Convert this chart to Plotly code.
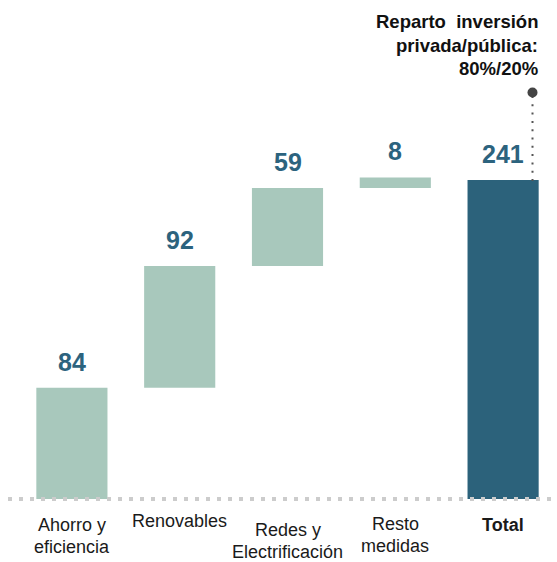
import plotly.graph_objects as go

# ---- data ----
categories = ["Ahorro y eficiencia", "Renovables", "Redes y Electrificación", "Resto medidas", "Total"]
label_lines = [["Ahorro y", "eficiencia"], ["Renovables"], ["Redes y", "Electrificación"], ["Resto", "medidas"], ["Total"]]
values = [84, 92, 59, 8, 241]
measures = ["relative", "relative", "relative", "relative", "absolute"]
note_lines = ["Reparto\u00a0 inversión", "privada/pública:", "80%/20%"]

FONT = "Liberation Sans, Arial, Helvetica, sans-serif"
LIGHT = "#a8c8bc"
DARK = "#2c627b"
TEXTC = "#2c637e"

W, H = 557, 562
ML, MR, MT, MB = 18, 0, 20, 63
plot_h = H - MT - MB
YMAX = 362

fig = go.Figure()
fig.add_trace(go.Waterfall(
    x=categories, y=values, measure=measures,
    increasing=dict(marker=dict(color=LIGHT)),
    decreasing=dict(marker=dict(color=LIGHT)),
    totals=dict(marker=dict(color=DARK)),
    connector=dict(visible=False),
    width=0.66, hoverinfo="skip", textinfo="none",
))

annotations = []
# value labels at bar tops
cum = 0
for cat, v, m in zip(categories, values, measures):
    top = cum + v if m == "relative" else v
    if m == "relative":
        cum += v
    annotations.append(dict(x=cat, y=top, xref="x", yref="y", text=str(v),
                            showarrow=False, yanchor="middle", yshift=26,
                            font=dict(family=FONT, size=25, color=TEXTC, weight="bold")))

# category labels (one annotation per line)
def py(px):
    return (H - MB - px) / plot_h

line_centers = [[525, 546.5], [520.5], [530, 551.5], [524, 545.5], [524.5]]
for cat, lines, centers in zip(categories, label_lines, line_centers):
    for ln, c in zip(lines, centers):
        annotations.append(dict(x=cat, y=py(c), xref="x", yref="paper", text=ln,
                                showarrow=False, yanchor="middle", xanchor="center",
                                borderpad=0,
                                font=dict(family=FONT, size=18, color="#1a1a1a",
                                          weight="bold" if cat == "Total" else "normal")))

# note at top right
note_centers = [21.5, 45, 69]
for ln, c in zip(note_lines, note_centers):
    annotations.append(dict(x=(540 - ML) / (W - ML - MR), y=py(c), xref="paper", yref="paper",
                            text=ln, showarrow=False, xanchor="right", yanchor="middle",
                            font=dict(family=FONT, size=18.5, color="#111", weight="bold")))

dot_x = (532.5 - ML) / (W - ML - MR)
dot_y = py(92.5)
shapes = [
    dict(type="line", xref="paper", yref="paper", x0=(8 - ML) / (W - ML - MR), x1=1, y0=0, y1=0,
         line=dict(color="#cccccc", width=4, dash="4px,7px"), layer="above"),
    dict(type="line", xref="paper", yref="paper", x0=dot_x, x1=dot_x,
         y0=py(181), y1=dot_y, line=dict(color="#555", width=2, dash="2px,6.3px"), layer="above"),
    dict(type="circle", xref="paper", yref="paper", xsizemode="pixel", ysizemode="pixel",
         xanchor=dot_x, yanchor=dot_y, x0=-5, x1=5, y0=-5, y1=5,
         fillcolor="#444", line=dict(width=0), layer="above"),
]

fig.update_layout(
    width=W, height=H,
    margin=dict(l=ML, r=MR, t=MT, b=MB, pad=0),
    paper_bgcolor="white", plot_bgcolor="white",
    showlegend=False,
    xaxis=dict(showticklabels=False, showgrid=False, zeroline=False, showline=False,
               ticks="", range=[-0.5, 4.5], fixedrange=True),
    yaxis=dict(visible=False, range=[0, YMAX], fixedrange=True),
    annotations=annotations, shapes=shapes,
    font=dict(family=FONT),
)

fig.write_html("out.html", config={"displayModeBar": False},
               post_script="document.body.style.margin='0';document.body.style.overflow='hidden';")
